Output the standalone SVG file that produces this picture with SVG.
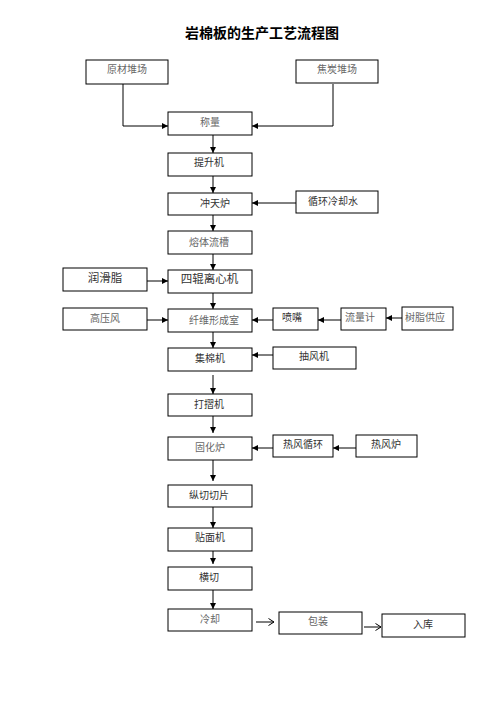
<svg xmlns="http://www.w3.org/2000/svg" width="496" height="702" viewBox="0 0 496 702">
<style>
.box{fill:#fff;stroke:#000;stroke-width:1}
.t{font-family:"Noto Sans CJK SC","Liberation Sans",sans-serif;font-size:10px;text-anchor:middle;fill:#666}
.d{fill:#333}
.big{font-size:11.5px}
.title{font-family:"Noto Sans CJK SC","Liberation Sans",sans-serif;font-size:14px;font-weight:bold;text-anchor:middle;fill:#000}
.c{fill:none;stroke:#000;stroke-width:1}
.o{fill:none;stroke:#000;stroke-width:1}
</style>
<defs>
<marker id="ah" markerWidth="6" markerHeight="6" refX="6" refY="3" orient="auto" markerUnits="userSpaceOnUse">
<path d="M0,0 L6,3 L0,6 Z" fill="#000"/>
</marker>
<marker id="oh" markerWidth="7" markerHeight="8" refX="6.5" refY="4" orient="auto" markerUnits="userSpaceOnUse">
<path d="M1,0.5 L6.5,4 L1,7.5" fill="none" stroke="#000" stroke-width="1"/>
</marker>
</defs>
<rect width="496" height="702" fill="#fff"/>
<text class="title" x="262" y="38">岩棉板的生产工艺流程图</text>

<g id="connectors">
<path class="c" d="M123,84 V126 H168" marker-end="url(#ah)"/>
<path class="c" d="M333,84 V126 H252" marker-end="url(#ah)"/>
<path class="c" d="M213,135 V153" marker-end="url(#ah)"/>
<path class="c" d="M213,176 V193" marker-end="url(#ah)"/>
<path class="c" d="M296,203 H252" marker-end="url(#ah)"/>
<path class="c" d="M213,215 V231" marker-end="url(#ah)"/>
<path class="c" d="M213,254 V270" marker-end="url(#ah)"/>
<path class="c" d="M147,281 H168" marker-end="url(#ah)"/>
<path class="c" d="M213,293 V309" marker-end="url(#ah)"/>
<path class="c" d="M147,320 H168" marker-end="url(#ah)"/>
<path class="c" d="M273,320 H252" marker-end="url(#ah)"/>
<path class="c" d="M341,320 H318" marker-end="url(#ah)"/>
<path class="c" d="M402,318 H386" marker-end="url(#ah)"/>
<path class="c" d="M213,332 V348" marker-end="url(#ah)"/>
<path class="c" d="M273,355 H252" marker-end="url(#ah)"/>
<path class="c" d="M213,375 V394" marker-end="url(#ah)"/>
<path class="c" d="M213,416 V433" marker-end="url(#ah)"/>
<path class="c" d="M273,448 H252" marker-end="url(#ah)"/>
<path class="c" d="M356,448 H333" marker-end="url(#ah)"/>
<path class="c" d="M213,460 V481" marker-end="url(#ah)"/>
<path class="c" d="M213,507 V528" marker-end="url(#ah)"/>
<path class="c" d="M213,551 V564" marker-end="url(#ah)"/>
<path class="c" d="M213,590 V609" marker-end="url(#ah)"/>
<path class="o" d="M256,622 H274" marker-end="url(#oh)"/>
<path class="o" d="M364,627 H381" marker-end="url(#oh)"/>
</g>

<g id="n1"><rect class="box" x="86" y="60" width="82" height="24"/><text class="t" x="127" y="73">原材堆场</text></g>
<g id="n2"><rect class="box" x="296" y="60" width="82" height="23"/><text class="t" x="337" y="73">焦炭堆场</text></g>
<g id="n3"><rect class="box" x="168" y="112" width="84" height="23"/><text class="t" x="210" y="126">称量</text></g>
<g id="n4"><rect class="box" x="168" y="153" width="84" height="23"/><text class="t d" x="209" y="166">提升机</text></g>
<g id="n5"><rect class="box" x="168" y="193" width="84" height="22"/><text class="t d" x="215" y="207">冲天炉</text></g>
<g id="n6"><rect class="box" x="296" y="191" width="82" height="22"/><text class="t d" x="333" y="205">循环冷却水</text></g>
<g id="n7"><rect class="box" x="168" y="231" width="84" height="23"/><text class="t" x="209" y="246">熔体流槽</text></g>
<g id="n8"><rect class="box" x="63" y="268" width="84" height="23"/><text class="t d big" x="105" y="282">润滑脂</text></g>
<g id="n9"><rect class="box" x="168" y="270" width="84" height="23"/><text class="t d big" x="209.5" y="283">四辊离心机</text></g>
<g id="n10"><rect class="box" x="63" y="308" width="84" height="22"/><text class="t" x="105" y="322">高压风</text></g>
<g id="n11"><rect class="box" x="168" y="309" width="84" height="23"/><text class="t" x="214" y="324">纤维形成室</text></g>
<g id="n12"><rect class="box" x="273" y="308" width="45" height="22"/><text class="t d" x="292" y="321">喷嘴</text></g>
<g id="n13"><rect class="box" x="341" y="308" width="45" height="22"/><text class="t" x="360" y="321">流量计</text></g>
<g id="n14"><rect class="box" x="402" y="307" width="51" height="23"/><text class="t" x="425" y="321">树脂供应</text></g>
<g id="n15"><rect class="box" x="168" y="348" width="84" height="23"/><text class="t d" x="210" y="362">集棉机</text></g>
<g id="n16"><rect class="box" x="273" y="347" width="83" height="22"/><text class="t d" x="314" y="360">抽风机</text></g>
<g id="n17"><rect class="box" x="168" y="394" width="84" height="22"/><text class="t d" x="209" y="408">打摺机</text></g>
<g id="n18"><rect class="box" x="168" y="437" width="84" height="23"/><text class="t" x="210" y="451">固化炉</text></g>
<g id="n19"><rect class="box" x="273" y="435" width="60" height="22"/><text class="t d" x="303" y="448">热风循环</text></g>
<g id="n20"><rect class="box" x="356" y="435" width="61" height="22"/><text class="t d" x="386" y="448">热风炉</text></g>
<g id="n21"><rect class="box" x="168" y="485" width="84" height="22"/><text class="t d" x="209" y="499">纵切切片</text></g>
<g id="n22"><rect class="box" x="168" y="528" width="84" height="23"/><text class="t d" x="210" y="541">贴面机</text></g>
<g id="n23"><rect class="box" x="168" y="567" width="84" height="23"/><text class="t d" x="209" y="581">横切</text></g>
<g id="n24"><rect class="box" x="168" y="609" width="84" height="22"/><text class="t" x="210" y="623">冷却</text></g>
<g id="n25"><rect class="box" x="279" y="612" width="83" height="22"/><text class="t" x="318" y="625">包装</text></g>
<g id="n26"><rect class="box" x="382" y="614" width="83" height="23"/><text class="t d" x="423" y="628">入库</text></g>
</svg>
